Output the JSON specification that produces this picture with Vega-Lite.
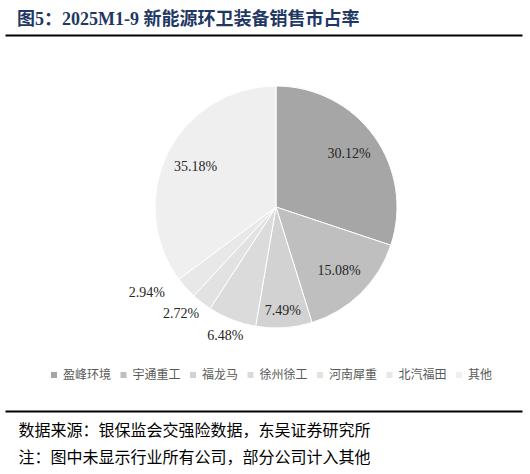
{
  "$schema": "https://vega.github.io/schema/vega-lite/v6.json",
  "width": 492,
  "height": 344,
  "autosize": {"type": "none"},
  "padding": {"left": 30, "top": 35, "right": 8, "bottom": 95},
  "background": "white",
  "title": {
    "text": "图5：2025M1-9 新能源环卫装备销售市占率",
    "anchor": "start",
    "frame": "group",
    "font": "Liberation Serif, Noto Sans CJK SC",
    "fontSize": 18,
    "fontWeight": "bold",
    "color": "#1f3864",
    "baseline": "bottom",
    "offset": 9,
    "dx": -13,
    "dy": 21
  },
  "data": {
    "values": [
      {"company": "盈峰环境", "share": 0.3012, "rank": 1},
      {"company": "宇通重工", "share": 0.1508, "rank": 2},
      {"company": "福龙马", "share": 0.0749, "rank": 3},
      {"company": "徐州徐工", "share": 0.0648, "rank": 4},
      {"company": "河南犀重", "share": 0.0272, "rank": 5},
      {"company": "北汽福田", "share": 0.0294, "rank": 6},
      {"company": "其他", "share": 0.3518, "rank": 7}
    ]
  },
  "layer": [
    {
      "mark": {"type": "arc", "outerRadius": 121, "stroke": "white", "strokeWidth": 1},
      "encoding": {
        "theta": {"field": "share", "type": "quantitative", "stack": true},
        "order": {"field": "rank", "type": "quantitative"},
        "color": {
          "field": "company",
          "type": "nominal",
          "sort": ["盈峰环境", "宇通重工", "福龙马", "徐州徐工", "河南犀重", "北汽福田", "其他"],
          "scale": {
            "domain": ["盈峰环境", "宇通重工", "福龙马", "徐州徐工", "河南犀重", "北汽福田", "其他"],
            "range": ["#a6a6a6", "#bfbfbf", "#d2d2d2", "#dbdbdb", "#e2e2e2", "#e8e8e8", "#efefef"]
          },
          "legend": {
            "title": null,
            "orient": "none",
            "direction": "horizontal",
            "legendX": 18,
            "legendY": 334,
            "padding": 0,
            "symbolType": "square",
            "symbolSize": 36,
            "symbolStrokeWidth": 0,
            "labelFont": "Noto Sans CJK SC",
            "labelFontSize": 12,
            "labelColor": "#595959",
            "labelOffset": 3,
            "columnPadding": 5.5,
            "labelLimit": 200
          }
        }
      }
    },
    {
      "mark": {"type": "text", "radius": 90, "font": "Liberation Serif", "fontSize": 14, "color": "#262626"},
      "encoding": {
        "theta": {"field": "share", "type": "quantitative", "stack": true},
        "order": {"field": "rank", "type": "quantitative"},
        "text": {"field": "share", "type": "quantitative", "format": ".2%"},
        "opacity": {"condition": {"test": "datum.share > 0.1", "value": 1}, "value": 0}
      }
    },
    {
      "mark": {"type": "text", "radius": 104, "font": "Liberation Serif", "fontSize": 14, "color": "#262626"},
      "encoding": {
        "theta": {"field": "share", "type": "quantitative", "stack": true},
        "order": {"field": "rank", "type": "quantitative"},
        "text": {"field": "share", "type": "quantitative", "format": ".2%"},
        "opacity": {"condition": {"test": "datum.company === '福龙马'", "value": 1}, "value": 0}
      }
    },
    {
      "mark": {"type": "text", "radius": 139, "font": "Liberation Serif", "fontSize": 14, "color": "#262626"},
      "encoding": {
        "theta": {"field": "share", "type": "quantitative", "stack": true},
        "order": {"field": "rank", "type": "quantitative"},
        "text": {"field": "share", "type": "quantitative", "format": ".2%"},
        "opacity": {"condition": {"test": "datum.company === '徐州徐工'", "value": 1}, "value": 0}
      }
    },
    {
      "mark": {"type": "text", "radius": 140, "dx": -9, "dy": -3, "font": "Liberation Serif", "fontSize": 14, "color": "#262626"},
      "encoding": {
        "theta": {"field": "share", "type": "quantitative", "stack": true},
        "order": {"field": "rank", "type": "quantitative"},
        "text": {"field": "share", "type": "quantitative", "format": ".2%"},
        "opacity": {"condition": {"test": "datum.company === '河南犀重'", "value": 1}, "value": 0}
      }
    },
    {
      "mark": {"type": "text", "radius": 140, "dx": -25, "dy": -8, "font": "Liberation Serif", "fontSize": 14, "color": "#262626"},
      "encoding": {
        "theta": {"field": "share", "type": "quantitative", "stack": true},
        "order": {"field": "rank", "type": "quantitative"},
        "text": {"field": "share", "type": "quantitative", "format": ".2%"},
        "opacity": {"condition": {"test": "datum.company === '北汽福田'", "value": 1}, "value": 0}
      }
    },
    {
      "mark": {"type": "point", "opacity": 0},
      "encoding": {
        "x": {
          "datum": 0,
          "type": "quantitative",
          "scale": {"domain": [0, 1], "range": [-25, 492], "nice": false, "zero": false},
          "axis": {
            "orient": "top",
            "domain": true,
            "domainColor": "#000000",
            "domainWidth": 2,
            "ticks": false,
            "labels": false,
            "grid": false,
            "title": null
          }
        }
      }
    },
    {
      "mark": {"type": "point", "opacity": 0},
      "encoding": {
        "x": {
          "datum": 0,
          "type": "quantitative",
          "axis": {
            "orient": "bottom",
            "offset": 32,
            "domain": true,
            "domainColor": "#000000",
            "domainWidth": 2,
            "ticks": false,
            "labels": false,
            "grid": false,
            "title": ["数据来源：银保监会交强险数据，东吴证券研究所", "注：图中未显示行业所有公司，部分公司计入其他"],
            "titleFont": "Noto Sans CJK SC",
            "titleFontSize": 16,
            "titleFontWeight": "normal",
            "titleColor": "#000000",
            "titleAnchor": "start",
            "titleAlign": "left",
            "titleBaseline": "top",
            "titleLineHeight": 27,
            "titleX": -12,
            "titleY": 11
          }
        }
      }
    }
  ],
  "resolve": {"axis": {"x": "independent"}},
  "config": {"view": {"stroke": null}}
}
